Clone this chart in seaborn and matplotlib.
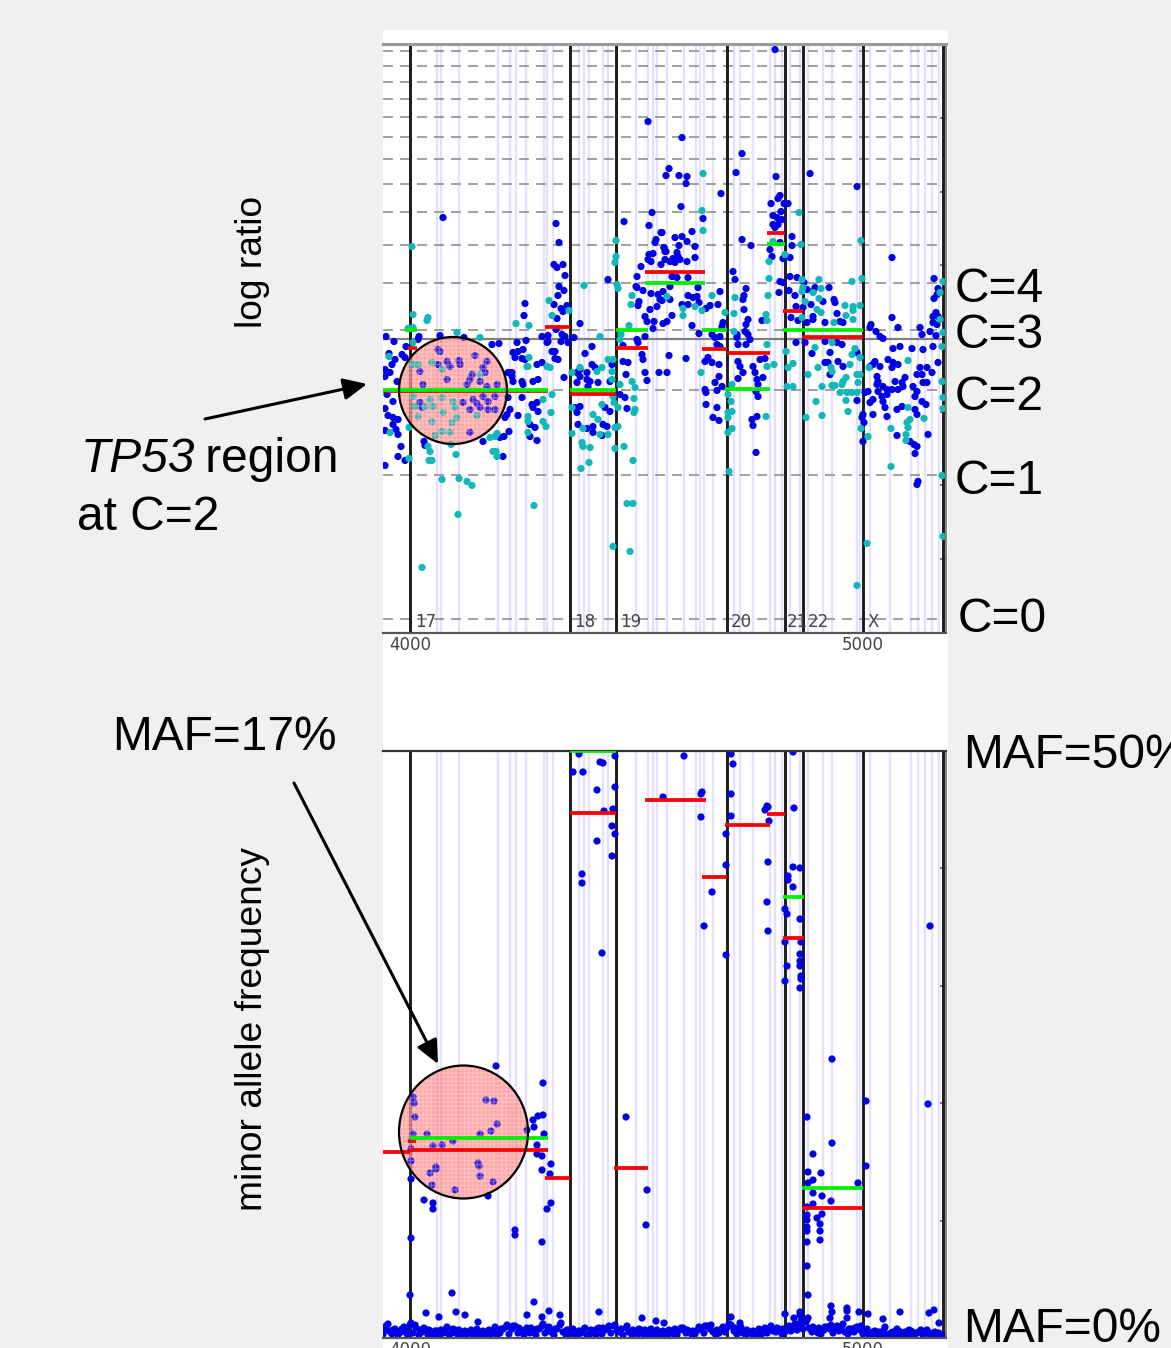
import numpy as np
import pandas as pd
import matplotlib
matplotlib.use('Agg')
import matplotlib.pyplot as plt
import seaborn as sns
from matplotlib.patches import Ellipse, FancyArrowPatch

W, H = 1171, 1348

# values: (probe offset from position 4000, height above the reference line)
POS_STEP = 2.2075   # genome units per read-off step
LR_STEP = 113.3     # read-off steps per unit of log ratio
MAF_STEP = 11.74    # read-off steps per percent of MAF

top_blue = [(33,121),(146,115),(149,96),(144,74),(147,71),(153,74),(155,63),(149,52),(154,48),(148,43),(144,34),(115,35),(114,23),
(151,30),(157,33),(153,27),(147,20),(170,15),(146,9),(152,4),(155,2),(132,2),(138,3),(138,-3),(151,-3),(158,-4),(164,1),(116,-2),
(107,-4),(89,-5),(82,-6),(54,1),(30,3),(9,2),(8,-1),(-16,-3),(-24,2),(-4,-8),(214,117),(239,113),(251,106),(246,99),(245,96),
(254,91),(256,87),(198,59),(231,72),(227,62),(239,84),(243,85),(238,79),(241,77),(226,52),(233,48),(241,45),(227,51),(248,44),
(252,38),(229,37),(228,33),(247,32),(240,29),(235,22),(237,17),(244,17),(243,10),(227,-1),(228,-4),(235,2),(213,-7),(182,-8),
(238,217),(242,126),(272,201),(259,170),(256,163),(269,163),(277,162),(276,155),(311,145),(271,132),(293,120),(252,106),(282,107),
(265,101),(272,102),(277,97),(285,92),(269,93),(254,91),(255,87),(267,86),(268,82),(263,80),(260,77),(270,79),(277,77),(285,81),
(255,79),(251,74),(265,76),(262,62),(267,61),(278,61),(288,51),(260,52),(253,47),(250,39),(260,39),(287,42),(278,43),(283,41),
(289,36),(272,34),(278,34),(300,33),(296,30),(308,34),(310,47),(262,23),(257,17),(253,15),(282,13),(289,5),(313,16),(312,12),
(302,4),(305,1),(310,2),(307,-6),(310,-8),(332,99),(341,93),(332,185),(326,166),(323,67),(325,59),(336,50),(334,43),(333,39),
(334,29),(338,19),(336,14),(352,18),(335,7),(338,4),(327,4),(327,1),(340,-1),(328,-6),(336,-6),(365,289),(366,162),(370,143),
(368,140),(361,135),(374,135),(378,135),(371,127),(363,123),(367,121),(372,119),(363,114),(368,114),(365,111),(382,102),(382,93),
(360,89),(362,82),(373,80),(380,81),(370,96),(370,57),(373,56),(380,62),(387,61),(369,46),(379,48),(385,43),(386,32),(393,31),
(381,21),(386,-4),(395,-4),(400,165),(447,152),(482,81),(482,21),(488,11),(461,14),(460,11),(466,7),(470,2),(473,0),(394,56),
(397,49),(405,51),(403,47),(419,51),(401,34),(413,37),(424,39),(425,36),(427,25),(403,22),(403,19),(415,16),(433,16),(430,17),
(397,16),(388,18),(415,-3),(427,-4),(432,-6),(524,60),(528,50),(527,44),(524,40),(526,26),(523,22),(528,22),(523,16),(527,14),
(510,11),(520,7),(512,4),(526,3),(-21,-15),(-18,-26),(-15,-21),(-8,-16),(-5,-19),(-25,-31),(-25,-38),(-20,-34),(-13,-43),(-23,-56),
(-17,-63),(-25,-70),(-22,-77),(-17,-79),(-12,-81),(-17,-86),(-14,-91),(-12,-96),(-25,-92),(-9,-108),(-12,-118),(-5,-122),(-25,-127),
(14,-103),(15,-107),(73,-103),(93,-118),(90,-99),(94,-98),(99,-93),(95,-79),(97,-76),(100,-71),(98,-34),(102,-34),(103,-43),(112,-43),
(113,-46),(98,-59),(112,-59),(108,-77),(102,-38),(103,-14),(108,-13),(113,-11),(112,-20),(115,-21),(105,-19),(123,-43),(128,-41),
(127,-26),(132,-24),(142,-13),(145,-13),(145,-20),(148,-21),(154,-39),(137,-4),(122,-66),(127,-64),(123,-69),(128,-73),(120,-86),
(125,-89),(120,-98),(127,-102),(28,-11),(49,-22),(37,-23),(65,-17),(77,-23),(28,-26),(10,-33),(40,-28),(73,-29),(60,-41),(70,-43),
(37,-41),(13,-46),(57,-46),(77,-48),(87,-46),(63,-61),(73,-58),(78,-63),(53,-64),(60,-71),(70,-69),(78,-71),(12,-69),(10,-64),
(60,-94),(85,-71),(67,-65),(75,-34),(62,-36),(50,-26),(30,-13),(85,-58),(175,-15),(182,-26),(185,-29),(170,-31),(167,-34),(170,-38),
(177,-34),(177,-41),(167,-44),(180,-43),(188,-44),(178,-48),(165,-69),(170,-68),(167,-74),(168,-86),(177,-90),(183,-94),(193,-86),
(197,-88),(195,-69),(200,-73),(192,-97),(183,-88),(202,-26),(200,-43),(213,-23),(218,-24),(216,-36),(210,-56),(215,-59),(217,-70),
(235,-34),(237,-42),(232,-16),(233,-21),(249,-34),(257,-34),(259,-17),(276,-20),(295,-23),(302,-24),(298,-19),(309,-26),(309,-38),
(305,-44),(312,-48),(307,-52),(296,-54),(295,-51),(296,-66),(307,-69),(303,-79),(309,-82),(328,-23),(330,-28),(343,-28),(350,-21),
(355,-20),(333,-34),(328,-40),(345,-34),(347,-41),(353,-39),(348,-46),(346,-53),(348,-58),(347,-78),(342,-81),(343,-87),(346,-114),
(453,-76),(452,-79),(454,-84),(453,-103),(455,-54),(458,-53),(447,-62),(460,-64),(463,-61),(463,-26),(465,-23),(460,-28),(470,-28),
(478,-21),(483,-10),(490,-8),(502,-10),(513,-11),(523,-8),(528,-24),(522,-34),(517,-29),(510,-29),(507,-36),(512,-36),(513,-44),
(517,-44),(488,-26),(483,-24),(482,-29),(495,-39),(485,-43),(492,-44),(467,-38),(468,-43),(467,-46),(473,-48),(477,-51),(482,-51),
(468,-53),(472,-58),(477,-56),(488,-51),(493,-48),(503,-48),(507,-53),(505,-58),(492,-68),(487,-71),(473,-63),(475,-69),(477,-78),
(463,-76),(512,-63),(516,-66),(505,-71),(507,-76),(518,-96),(487,-97),(500,-103),(504,-106),(507,-108),(505,-115),(508,-143),(507,-146),
(415,-24),(418,-24),(420,-36),(428,-23),(447,-14),(433,-28),(402,-15),(420,-14)]

top_teal = [(2,92),(3,24),(18,21),(17,18),(-2,10),(3,11),(3,-4),(47,6),(70,1),(106,15),(119,13),(139,38),(142,23),(159,28),(174,53),
(190,2),(206,98),(206,82),(205,76),(207,54),(208,50),(222,43),(221,34),(219,13),(211,4),(210,-1),(257,42),(293,165),(292,128),
(293,108),(273,30),(273,23),(285,32),(292,28),(302,43),(315,26),(324,7),(324,25),(325,41),(356,24),(357,18),(358,43),(359,60),
(359,77),(363,97),(389,126),(391,94),(375,84),(451,98),(452,60),(442,57),(409,59),(411,50),(392,59),(393,51),(392,47),(403,46),
(409,40),(395,37),(407,29),(411,26),(435,33),(443,32),(443,28),(450,33),(436,23),(443,19),(424,16),(392,21),(533,57),(530,46),
(530,19),(533,6),(532,-8),(357,-6),(405,-9),(422,-4),(445,-10),(-21,-18),(3,-26),(8,-26),(22,-24),(32,-31),(70,-36),(20,-61),
(32,-59),(43,-63),(45,-69),(23,-68),(15,-68),(5,-68),(3,-58),(33,-74),(8,-78),(22,-83),(42,-84),(47,-79),(67,-77),(32,-93),
(40,-94),(25,-97),(-1,-89),(-20,-94),(-1,-120),(18,-108),(20,-113),(19,-122),(22,-122),(46,-116),(41,-106),(83,-113),(86,-113),
(87,-118),(80,-99),(85,-98),(87,-95),(32,-141),(49,-140),(57,-143),(62,-147),(48,-176),(12,-229),(124,-167),(118,-94),(118,-78),
(118,-83),(133,-83),(136,-88),(141,-74),(133,-61),(142,-56),(118,-28),(117,-28),(119,-19),(137,-28),(140,-29),(162,-34),(170,-29),
(162,-69),(162,-95),(172,-104),(173,-108),(180,-109),(179,-124),(171,-130),(173,-90),(183,-76),(188,-81),(190,-96),(198,-96),
(192,-66),(187,-33),(192,-29),(202,-33),(202,-41),(203,-21),(198,-21),(210,-46),(203,-58),(204,-64),(208,-69),(205,-89),(208,-88),
(205,-110),(214,-108),(223,-122),(224,-60),(225,-71),(224,-74),(222,-43),(225,-49),(217,-165),(223,-165),(203,-208),(220,-213),
(291,-34),(364,-26),(357,-28),(356,-78),(319,-133),(318,-94),(322,-90),(318,-79),(318,-74),(322,-73),(321,-63),(318,-56),(322,-46),
(377,-48),(383,-48),(378,-29),(383,-25),(376,-13),(398,-36),(396,-79),(406,-63),(412,-77),(412,-48),(422,-47),(425,-47),(422,-33),
(421,-29),(408,-29),(433,-43),(436,-39),(432,-46),(440,-26),(442,-16),(450,-19),(447,-36),(450,-36),(448,-44),(430,-54),(437,-54),
(442,-54),(447,-54),(436,-62),(438,-73),(451,-90),(458,-98),(457,-205),(447,-247),(481,-90),(481,-128),(498,-22),(498,-69),
(500,-81),(497,-84),(498,-89),(496,-96),(496,-102),(514,-80),(532,-43),(533,-59),(533,-70),(532,-137),(533,-198),(459,-29)]

maf_points = [(169,584),(205,582),(190,576),(193,575),(163,566),(173,566),(187,548),(205,551),(203,529),(194,527),(253,541),(202,512),
(205,504),(187,497),(202,482),(172,464),(172,455),(192,385),(274,582),(321,584),(323,574),(292,546),(291,544),(321,544),(291,521),
(321,522),(316,504),(316,473),(302,446),(294,412),(316,383),(358,531),(355,528),(357,532),(359,517),(358,476),(357,436),(358,407),
(384,530),(383,586),(383,471),(390,470),(378,462),(378,458),(383,451),(375,429),(377,424),(390,419),(375,396),(391,396),(390,384),
(390,377),(390,372),(377,372),(391,362),(391,359),(375,357),(390,350),(520,412),(86,272),(133,255),(76,238),(84,237),(3,241),(4,235),
(5,221),(133,223),(128,222),(123,218),(124,211),(87,214),(81,207),(117,208),(70,204),(3,204),(17,204),(134,204),(43,197),(32,193),
(23,192),(127,193),(1,189),(127,184),(132,182),(1,177),(68,175),(69,172),(26,171),(26,169),(141,174),(132,168),(20,165),(70,162),
(140,164),(83,156),(22,153),(1,159),(45,148),(78,142),(14,138),(23,135),(23,129),(141,135),(137,129),(216,221),(237,148),(236,113),
(105,108),(105,103),(132,96),(1,100),(0,43),(42,45),(124,36),(16,25),(29,21),(46,26),(55,23),(117,23),(132,21),(139,27),(150,23),
(189,26),(232,20),(246,17),(254,15),(68,16),(422,279),(456,237),(518,234),(397,221),(422,195),(403,184),(456,172),(398,166),(411,165),
(403,158),(398,155),(448,155),(403,145),(412,142),(421,137),(403,134),(397,131),(412,124),(407,120),(397,123),(397,118),(410,114),
(397,111),(397,107),(410,107),(410,98),(397,96),(397,72),(398,43),(421,32),(437,30),(437,27),(422,26),(449,26),(458,24),(490,26),
(524,28),(519,25),(375,24),(390,26),(390,23),(384,20),(437,20),(420,20),(398,20),(473,19),(529,15),(321,21),(330,15)]

maf_floor = [(-27,4),(-24,12),(-21,7),(-18,4),(-15,9),(-12,3),(-9,6),(-6,11),(-3,4),(0,13),(3,5),(6,10),(9,3),(12,6),(15,9),(18,3),(21,6),
(24,3),(27,7),(30,3),(33,5),(36,9),(39,3),(42,5),(45,8),(48,3),(51,6),(54,3),(57,4),(60,6),(63,3),(66,5),(69,4),(72,3),(75,6),(78,3),
(81,4),(84,8),(87,3),(90,5),(93,9),(96,11),(99,4),(102,9),(105,12),(108,5),(111,8),(114,3),(117,10),(120,5),(123,7),(126,3),(129,9),
(132,12),(135,5),(138,10),(141,6),(144,3),(147,9),(150,13),(153,6),(156,3),(159,8),(162,5),(165,4),(168,3),(171,5),(174,9),(177,3),
(180,4),(183,7),(186,3),(189,10),(192,4),(195,8),(198,10),(201,5),(204,12),(207,7),(210,6),(213,3),(216,10),(219,6),(222,3),(225,7),
(228,4),(231,8),(234,3),(237,6),(240,3),(243,5),(246,3),(249,4),(252,3),(255,5),(258,3),(261,7),(264,4),(267,3),(270,8),(273,10),
(276,5),(279,7),(282,3),(285,4),(288,8),(291,10),(294,5),(297,12),(300,9),(303,6),(306,3),(309,5),(312,9),(315,6),(318,11),(321,13),
(324,7),(327,4),(330,9),(333,5),(336,3),(339,6),(342,4),(345,3),(348,5),(351,3),(354,8),(357,5),(360,10),(363,7),(366,6),(369,9),
(372,4),(375,6),(378,10),(381,7),(384,12),(387,8),(390,14),(393,9),(396,16),(399,10),(402,6),(405,9),(408,5),(411,4),(414,8),(417,11),
(420,9),(423,5),(426,10),(429,7),(432,12),(435,6),(438,4),(441,9),(444,6),(447,11),(450,8),(453,4),(456,7),(459,3),(462,2),(465,7),
(468,3),(471,2),(474,8),(477,3),(480,2),(483,6),(486,3),(489,7),(492,2),(495,6),(498,3),(501,7),(504,2),(507,5),(510,7),(513,3),
(516,6),(519,4),(522,2),(525,6),(528,3),(531,2),(534,2)]

maf_floor_upper = [(-26,10),(-22,14),(-17,8),(-13,7),(-8,9),(-4,8),(1,15),(5,13),(10,8),(14,10),(19,8),(25,7),(31,8),(37,11),(43,9),(49,8),(55,7),
(61,8),(67,9),(73,7),(79,8),(85,11),(91,9),(97,13),(103,12),(109,10),(115,8),(121,10),(127,9),(133,14),(139,11),(145,9),(151,15),(157,8),
(163,9),(169,7),(175,10),(181,8),(187,9),(193,10),(199,12),(205,13),(211,9),(217,12),(223,8),(229,9),(235,8),(241,9),(247,8),(253,7),
(259,8),(265,9),(271,10),(277,8),(283,7),(289,11),(295,12),(301,13),(307,8),(313,11),(319,14),(325,10),(331,11),(337,8),(343,7),(349,9),
(355,10),(361,12),(367,10),(373,9),(379,12),(385,14),(391,17),(397,18),(403,11),(409,10),(415,11),(421,13),(427,12),(433,14),(439,9),
(445,10),(451,12),(457,9),(463,6),(469,6),(475,11),(481,5),(487,9),(493,5),(499,8),(505,5),(511,8),(517,8),(523,5),(529,5)]

chrom_breaks = [0, 160, 206, 317, 375, 393, 453, 533]
chrom_names = ['17', '18', '19', '20', '21', '22', 'X']
chrom_label_x = [16, 175, 221, 331, 387, 408, 463]
probe_lines = [27,31,49,88,100,106,116,134,137,143,169,174,179,193,198,226,238,243,247,257,274,286,290,294,303,324,330,343,360,365,372,
380,390,398,413,422,447,450,460,480,501,508,515,522,529]
copy_levels = [-281,-137,-52,9,56,94,127,155,180,202,222,240,257,273,288]
top_ticks = [-220.5,-147,-73.5,73.5,147,220.5]
maf_ticks = [10,20,30,40]

# (start, end, level)
top_red = [(135,160,12),(-2,7,-10),(-27,138,-53),(160,206,-56),(206,238,-10),(235,295,67),(292,317,-11),(317,360,-15),(357,375,106),
(373,393,28),(392,453,2)]
top_green = [(-5,7,9),(-27,138,-52),(160,206,-52),(206,238,9),(235,295,56),(292,317,9),(315,360,-51),(357,375,95),(373,453,9)]
maf_red = [(160,206,525),(235,296,538),(292,317,461),(315,360,513),(357,375,524),(373,394,400),(-27,0,186),(-2,6,197),(0,138,188),
(135,160,160),(204,238,170),(392,453,130)]
maf_green = [(160,206,587),(373,394,441),(0,138,200),(392,453,150)]

sns.set_theme(style='white')
plt.rcParams['font.family'] = ['Liberation Sans', 'DejaVu Sans']


def to_pos(v):
    return 4000 + np.asarray(v, dtype=float) * POS_STEP


def points_frame(pairs, state, scale):
    arr = np.array(pairs, dtype=float)
    return pd.DataFrame({'pos': to_pos(arr[:, 0]), 'val': arr[:, 1] / scale, 'state': state})


def draw_panel(ax, df, red, green, scale, palette):
    ax.set_facecolor('white')
    for x in probe_lines:
        ax.axvline(to_pos(x), color='#e2e2ff', lw=1.7, zorder=1)
    for x in chrom_breaks:
        ax.axvline(to_pos(x), color='#1c1c1c', lw=2.1, zorder=1.5)
    sns.scatterplot(data=df, x='pos', y='val', hue='state', palette=palette, s=27, linewidth=0, legend=False, ax=ax, zorder=2)
    for segs, col in [(red, '#fa0000'), (green, '#00f000')]:
        s = np.array(segs, dtype=float)
        ax.hlines(s[:, 2] / scale, to_pos(s[:, 0]), to_pos(s[:, 1]), color=col, lw=2.7, zorder=4)
    ax.set_xlabel('')
    ax.set_ylabel('')
    ax.set_xlim(to_pos(-27), to_pos(536))
    ax.set_xticks([4000, 5000])
    ax.set_xticklabels(['4000', '5000'], fontsize=12, color='#444444', family='DejaVu Sans')
    ax.yaxis.tick_right()
    ax.tick_params(axis='y', direction='in', length=4, color='#555555', labelright=False, right=True, left=False)
    ax.tick_params(axis='x', direction='in', length=0, pad=2.5)
    ax.spines['left'].set_visible(False)


fig = plt.figure(figsize=(W / 100, H / 100), dpi=100, facecolor='#f0f0f0')

paper = fig.add_axes([383 / W, 0, 565 / W, 1318 / H], zorder=0)
paper.set_facecolor('white')
paper.set_xticks([])
paper.set_yticks([])
for s in paper.spines.values():
    s.set_visible(False)

over = fig.add_axes([0, 0, 1, 1], zorder=5)
over.set_xlim(0, W)
over.set_ylim(H, 0)
over.axis('off')

# log ratio panel
ax1 = fig.add_axes([383 / W, 1 - 633 / H, 563 / W, 589 / H], zorder=1)
top_df = pd.concat([points_frame(top_blue, 'probe', LR_STEP), points_frame(top_teal, 'flagged', LR_STEP)])
draw_panel(ax1, top_df, top_red, top_green, LR_STEP, {'probe': '#0000e6', 'flagged': '#12b8b8'})
ax1.set_ylim(-2.6, 2.6)
ax1.set_yticks(np.array(top_ticks) / LR_STEP)
for lv in copy_levels:
    ax1.axhline(lv / LR_STEP, color='#909090', lw=1.2, ls=(0, (6, 4.2)), zorder=1.2)
ax1.axhline(0, color='#808080', lw=1.6, zorder=1.2)
ax1.spines['top'].set_linewidth(2.2)
ax1.spines['top'].set_color('#9a9a9a')
ax1.spines['right'].set_color('#777777')
ax1.spines['bottom'].set_linewidth(1.6)
ax1.spines['bottom'].set_color('#555555')
for name, x in zip(chrom_names, chrom_label_x):
    ax1.text(to_pos(x), -284 / LR_STEP, name, fontsize=12, color='#444444', family='DejaVu Sans', ha='center', va='center', zorder=5)

# minor allele frequency panel
ax2 = fig.add_axes([383 / W, 1 - 1338 / H, 563 / W, 587 / H], zorder=1)
bot_df = pd.concat([points_frame(maf_floor, 'probe', MAF_STEP), points_frame(maf_floor_upper, 'probe', MAF_STEP),
                    points_frame(maf_points, 'probe', MAF_STEP)])
draw_panel(ax2, bot_df, maf_red, maf_green, MAF_STEP, {'probe': '#0000e6'})
ax2.set_ylim(0, 50)
ax2.set_yticks(maf_ticks)
ax2.spines['top'].set_linewidth(1.6)
ax2.spines['top'].set_color('#333333')
ax2.spines['right'].set_color('#777777')
ax2.spines['bottom'].set_linewidth(1.6)
ax2.spines['bottom'].set_color('#555555')

# highlighted regions: pink under the points, a thin veil and mesh above them
plt.rcParams['hatch.linewidth'] = 0.9
for ax, cx, cy, wd, ht in [(ax1, 453, 390.5, 108, 107), (ax2, 463.5, 1132, 129, 133)]:
    ax.add_patch(Ellipse((cx, cy), wd, ht, transform=over.transData, fc=(1, 0.45, 0.45, 0.55), ec='none', zorder=1.8))
    ax.add_patch(Ellipse((cx, cy), wd, ht, transform=over.transData, fc=(1, 0.5, 0.5, 0.24), ec='none', zorder=3))
    ax.add_patch(Ellipse((cx, cy), wd, ht, transform=over.transData, fc='none', ec=(1, 1, 1, 0.3), hatch='++++', lw=0, zorder=3.1))
    ax.add_patch(Ellipse((cx, cy), wd, ht, transform=over.transData, fc='none', ec='black', lw=1.6, zorder=4.5))

# annotations
big = 34.5
for txt, x, y in [('C=4', 955, 289), ('C=3', 955, 335), ('C=2', 955, 398), ('C=1', 955, 481), ('C=0', 958, 619),
                  ('MAF=50%', 963, 755), ('MAF=0%', 963, 1330), ('MAF=17%', 112, 738), (' region', 192, 459), ('at C=2', 77, 517)]:
    over.text(x, y, txt, fontsize=big, color='black', ha='left', va='center', clip_on=True)
over.text(81, 459, 'TP53', fontsize=big, style='italic', color='black', ha='left', va='center')
over.text(252, 262, 'log ratio', fontsize=26.7, rotation=90, ha='center', va='center', color='black')
over.text(252, 1029, 'minor allele frequency', fontsize=26.7, rotation=90, ha='center', va='center', color='black')

for p0, p1 in [((205, 419), (367, 384)), ((294, 783), (438, 1064))]:
    over.add_patch(FancyArrowPatch(p0, p1, arrowstyle='-|>,head_length=6.5,head_width=3', mutation_scale=2.2, color='black', lw=2.2, shrinkA=0, shrinkB=0))

fig.savefig('out.png', dpi=100, facecolor=fig.get_facecolor())
